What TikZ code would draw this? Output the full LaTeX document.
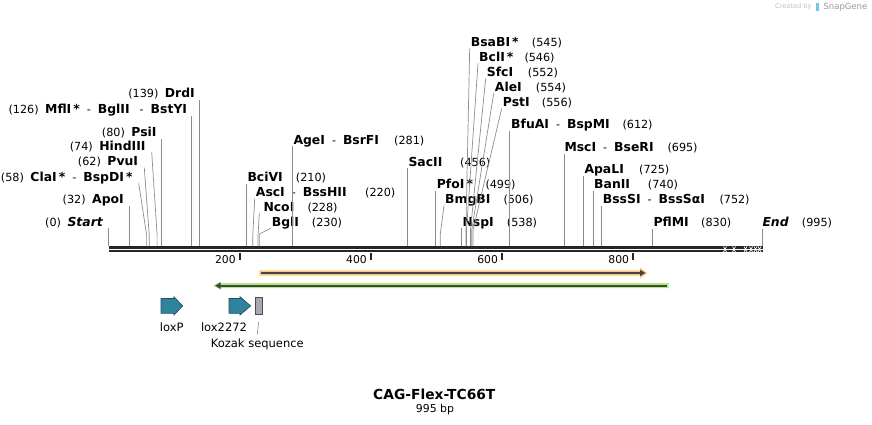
\documentclass[tikz,border=0pt]{standalone}
\usepackage{fontspec}
\setmainfont{DejaVu Sans}
\usetikzlibrary{arrows.meta}

\definecolor{bbdark}{RGB}{38,38,38}
\definecolor{cutgray}{RGB}{140,140,140}
\definecolor{featorange}{RGB}{250,201,124}
\definecolor{featgreen}{RGB}{176,231,128}
\definecolor{featdark}{RGB}{68,68,68}
\definecolor{loxteal}{RGB}{47,131,155}
\definecolor{loxedge}{RGB}{28,78,92}
\definecolor{kozakgray}{RGB}{166,169,176}
\definecolor{markgray}{RGB}{190,190,190}
\definecolor{markblue}{RGB}{120,195,238}

\newcommand{\enzname}[1]{{\fontsize{12.4}{14}\selectfont\bfseries #1}}
\newcommand{\bpnum}[1]{(#1)}
\newcommand{\dsep}{\hspace{7pt}-\hspace{7pt}}

\begin{document}
\begin{tikzpicture}[x=1pt,y=-1pt,
  declare function={bx(\b)=108.6+0.6555*\b;},
  cutline/.style={draw=cutgray,line width=0.7pt},
  lname/.style={anchor=east,inner sep=0pt,text height=9pt,text depth=2pt,font=\fontsize{11.2}{13}\selectfont},
  rname/.style={anchor=west,inner sep=0pt,text height=9pt,text depth=2pt,font=\fontsize{11.2}{13}\selectfont},
  numlbl/.style={rname},
  featlbl/.style={inner sep=0pt,font=\fontsize{11.5}{13}\selectfont},
  loxfeat/.style={fill=loxteal,draw=loxedge,line width=0.6pt,line join=miter},
  kozakbox/.style={fill=kozakgray,draw=black!70,line width=0.6pt,minimum width=6.7pt,minimum height=16.6pt,inner sep=0pt}]
\useasboundingbox (0,0) rectangle (872,425);

% backbone
\coordinate (bbL) at (108.6,0);
\coordinate (bbR) at (762.7,0);
\draw[bbdark,line width=2.7pt] (bbL |- 0,247.3) -- (bbR |- 0,247.3);
\draw[bbdark,line width=2.3pt] (bbL |- 0,251.2) -- (bbR |- 0,251.2);
\foreach \h in {725,734,745.5,751,755.5,759.5}
  \draw[white,line width=0.7pt] (\h-1.5,246.5) -- (\h+1.5,252) (\h-1.5,252) -- (\h+1.5,246.5);

% scale
\foreach \t in {200,400,600,800}{
  \draw[bbdark,line width=1.6pt] ({bx(\t)},253) -- ({bx(\t)},259.5);
  \node[anchor=east,inner sep=0pt,font=\fontsize{10.8}{12}\selectfont] (t\t) at ({bx(\t)-3.8},259.5) {\t};
}

% cut sites
\foreach \b in {0,32,58,62,74,80,126,139,210,220,228,230,281,456,499,506,538,545,546,552,554,556,612,695,725,740,752,830}
  \coordinate (s\b) at ({bx(\b)},246);
\coordinate (s995) at (762.2,246);

% left labels
\node[lname] (start) at (103,222.7) {\bpnum{0}\hspace{6.5pt}\enzname{\itshape Start}};
\node[lname] (apoi) at (124,200) {\bpnum{32}\hspace{6.5pt}\enzname{ApoI}};
\node[lname] (clai) at (132.7,177.7) {\bpnum{58}\hspace{6.5pt}\enzname{ClaI\,*}\dsep\enzname{BspDI\,*}};
\node[lname] (pvui) at (138.3,162) {\bpnum{62}\hspace{6.5pt}\enzname{PvuI}};
\node[lname] (hindiii) at (145.7,146.7) {\bpnum{74}\hspace{6.5pt}\enzname{HindIII}};
\node[lname] (psii) at (156.7,133.3) {\bpnum{80}\hspace{6.5pt}\enzname{PsiI}};
\node[lname] (mfli) at (187.3,110.3) {\bpnum{126}\hspace{6.5pt}\enzname{MflI\,*}\dsep\enzname{BglII}\hspace{3pt}\dsep\enzname{BstYI}};
\node[lname] (drdi) at (195,94.3) {\bpnum{139}\hspace{6.5pt}\enzname{DrdI}};

% right labels
\node[rname] (bcivi) at (247.3,178) {\enzname{BciVI}};
\node[numlbl] (n210) at (295.7,178) {\bpnum{210}};
\node[rname] (asci) at (255.7,192.7) {\enzname{AscI}\dsep\enzname{BssHII}};
\node[numlbl] (n220) at (365,192.7) {\bpnum{220}};
\node[rname] (ncoi) at (263.3,207.7) {\enzname{NcoI}};
\node[numlbl] (n228) at (307.3,207.7) {\bpnum{228}};
\node[rname] (bgli) at (271.7,222.7) {\enzname{BglI}};
\node[numlbl] (n230) at (311.7,222.7) {\bpnum{230}};
\node[rname] (agei) at (293.3,140.5) {\enzname{AgeI}\dsep\enzname{BsrFI}};
\node[numlbl] (n281) at (394,140.5) {\bpnum{281}};
\node[rname] (sacii) at (408.3,162.7) {\enzname{SacII}};
\node[numlbl] (n456) at (460,162.7) {\bpnum{456}};
\node[rname] (pfoi) at (436.7,185) {\enzname{PfoI\,*}};
\node[numlbl] (n499) at (485.3,185) {\bpnum{499}};
\node[rname] (bmgbi) at (445,200) {\enzname{BmgBI}};
\node[numlbl] (n506) at (503.3,200) {\bpnum{506}};
\node[rname] (nspi) at (462.3,222.7) {\enzname{NspI}};
\node[numlbl] (n538) at (506.7,222.7) {\bpnum{538}};
\node[rname] (bsabi) at (470.7,42.7) {\enzname{BsaBI\,*}};
\node[numlbl] (n545) at (531.7,42.7) {\bpnum{545}};
\node[rname] (bcli) at (479,57.7) {\enzname{BclI\,*}};
\node[numlbl] (n546) at (524.3,57.7) {\bpnum{546}};
\node[rname] (sfci) at (486.7,72.7) {\enzname{SfcI}};
\node[numlbl] (n552) at (527.7,72.7) {\bpnum{552}};
\node[rname] (alei) at (494.7,87.7) {\enzname{AleI}};
\node[numlbl] (n554) at (535.7,87.7) {\bpnum{554}};
\node[rname] (psti) at (502.7,102.7) {\enzname{PstI}};
\node[numlbl] (n556) at (541.7,102.7) {\bpnum{556}};
\node[rname] (bfuai) at (511,125.3) {\enzname{BfuAI}\dsep\enzname{BspMI}};
\node[numlbl] (n612) at (622.3,125.3) {\bpnum{612}};
\node[rname] (msci) at (564.3,148.3) {\enzname{MscI}\dsep\enzname{BseRI}};
\node[numlbl] (n695) at (667.3,148.3) {\bpnum{695}};
\node[rname] (apali) at (584.3,170.3) {\enzname{ApaLI}};
\node[numlbl] (n725) at (639,170.3) {\bpnum{725}};
\node[rname] (banii) at (594,185) {\enzname{BanII}};
\node[numlbl] (n740) at (647.7,185) {\bpnum{740}};
\node[rname] (bsssi) at (602.7,200) {\enzname{BssSI}\dsep\enzname{BssSαI}};
\node[numlbl] (n752) at (719.3,200) {\bpnum{752}};
\node[rname] (pflmi) at (653.3,223.3) {\enzname{PflMI}};
\node[numlbl] (n830) at (701,223.3) {\bpnum{830}};
\node[rname] (end) at (762.3,223) {\enzname{\itshape End}};
\node[numlbl] (n995) at (801.7,223) {\bpnum{995}};

% site lines
\foreach \s/\l in {0/start,32/apoi,80/psii,126/mfli,139/drdi,210/bcivi,281/agei,456/sacii,499/pfoi,538/nspi,612/bfuai,695/msci,725/apali,740/banii,752/bsssi,830/pflmi,995/end}
  \draw[cutline] (s\s) -- (s\s |- \l.south);
\draw[cutline] (s58) -- ++(0,-11) -- ([xshift=6pt]clai.south east);
\draw[cutline] (s62) -- ++(0,-11) -- ([xshift=6pt]pvui.south east);
\draw[cutline] (s74) -- ++(0,-11) -- ([xshift=6pt]hindiii.south east);
\draw[cutline] (s220) -- ++(0,-11) -- ([xshift=-1pt]asci.south west);
\draw[cutline] (s228) -- ++(0,-11) -- ([xshift=-4pt]ncoi.south west);
\draw[cutline] (s230) -- ++(0,-12) -- ([xshift=-1pt]bgli.south west);
\draw[cutline] (s506) -- ++(0,-12) -- ([xshift=-1pt]bmgbi.south west);
\foreach \s/\l in {545/bsabi,546/bcli,552/sfci,554/alei,556/psti}
  \draw[cutline] (s\s) -- ++(0,-16) -- ([xshift=-1pt]\l.south west);

% features
\fill[featorange] (259.3,270.3) -- (640,270.3) -- (640,267.5) -- (647.3,273) -- (640,278.5) -- (640,275.7) -- (259.3,275.7) -- cycle;
\draw[featdark,line width=2pt] (261,273) -- (640.5,273);
\fill[featdark] (640,269.8) -- (645.4,273) -- (640,276.2) -- cycle;
\fill[featgreen] (668.7,283.2) -- (220.5,283.2) -- (220.5,281.5) -- (213.3,285.7) -- (220.5,289.9) -- (220.5,288.2) -- (668.7,288.2) -- cycle;
\draw[featdark,line width=2pt] (666.5,285.7) -- (220,285.7);
\fill[featdark] (220.5,282.5) -- (215.2,285.7) -- (220.5,288.9) -- cycle;

\foreach \a/\b/\c in {161/174/182.7,229/240/250.7}
  \filldraw[loxfeat] (\a,298.5) -- (\b,298.5) -- (\b,296.7) -- (\c,305.9) -- (\b,315) -- (\b,313.3) -- (\a,313.3) -- cycle;
\node[featlbl] (loxp) at (171.7,327.7) {loxP};
\node[featlbl] (lox2272) at (224,327.7) {lox2272};
\node[kozakbox] (kozak) at (258.7,306) {};
\node[featlbl] (kozaklbl) at (257.3,344.3) {Kozak sequence};
\draw[cutgray,line width=0.6pt] ([yshift=-7pt]kozak.south) -- ([yshift=4pt]kozaklbl.north);

% title
\node[font=\fontsize{13.8}{16}\selectfont\bfseries] (title) at (434.3,394) {CAG-Flex-TC66T};
\node[font=\fontsize{10.9}{13}\selectfont] (size) at (435,409.3) {995 bp};

% watermark
\node[anchor=east,inner sep=0pt,text=markgray,font=\fontsize{6.6}{8}\selectfont] (wmby) at (811.7,7) {Created by};
\fill[markblue] (815.8,3) rectangle (819.2,11);
\node[anchor=west,inner sep=0pt,text=black!40,font=\fontsize{8.5}{10}\selectfont] (wmsg) at (823.3,7) {SnapGene};
\end{tikzpicture}
\end{document}
